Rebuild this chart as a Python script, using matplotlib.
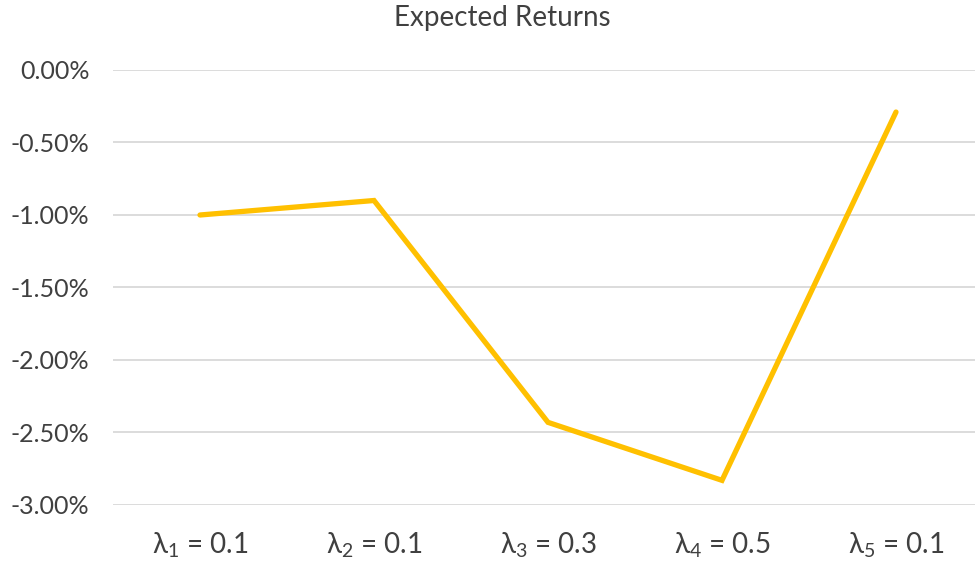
import matplotlib
matplotlib.use('Agg')
from matplotlib import pyplot as plt
from matplotlib.ticker import FuncFormatter

plt.rcParams['font.family'] = ['Lato', 'DejaVu Sans']
plt.rcParams['mathtext.fontset'] = 'custom'
plt.rcParams['mathtext.rm'] = 'Lato'
plt.rcParams['mathtext.it'] = 'Lato:italic'

labels = ['λ$_\\mathrm{1}$ = 0.1', 'λ$_\\mathrm{2}$ = 0.1', 'λ$_\\mathrm{3}$ = 0.3',
          'λ$_\\mathrm{4}$ = 0.5', 'λ$_\\mathrm{5}$ = 0.1']
returns = [-1.00, -0.90, -2.43, -2.83, -0.29]  # percent
yticks = [0.0, -0.5, -1.0, -1.5, -2.0, -2.5, -3.0]

fig = plt.figure(figsize=(9.75, 5.7), dpi=100)
ax = fig.add_axes([113 / 975, 1 - 505 / 570, 870 / 975, 435 / 570])

x = list(range(len(labels)))
ax.plot(x, returns, color='#FFC000', linewidth=3.8, solid_capstyle='round',
        solid_joinstyle='miter', zorder=3)

ax.set_xlim(-0.5, len(labels) - 0.5)
ax.set_ylim(-3.0, 0.0)
ax.set_yticks(yticks)
ax.yaxis.set_major_formatter(FuncFormatter(lambda v, p: '%.2f%%' % v))
ax.set_xticks(x)
ax.set_xticklabels(labels)

ax.grid(axis='y', color='#D9D9D9', linewidth=1.3)
ax.set_axisbelow(True)
for s in ax.spines.values():
    s.set_visible(False)
ax.tick_params(axis='both', length=0, colors='#404040')
ax.tick_params(axis='y', labelsize=18, pad=17)
ax.tick_params(axis='x', labelsize=20, pad=18)

fig.text(502 / 975, 1 - 18 / 570, 'Expected Returns', ha='center', va='center',
         fontsize=20, color='#404040')

fig.savefig('out.png', dpi=100, facecolor='white')
